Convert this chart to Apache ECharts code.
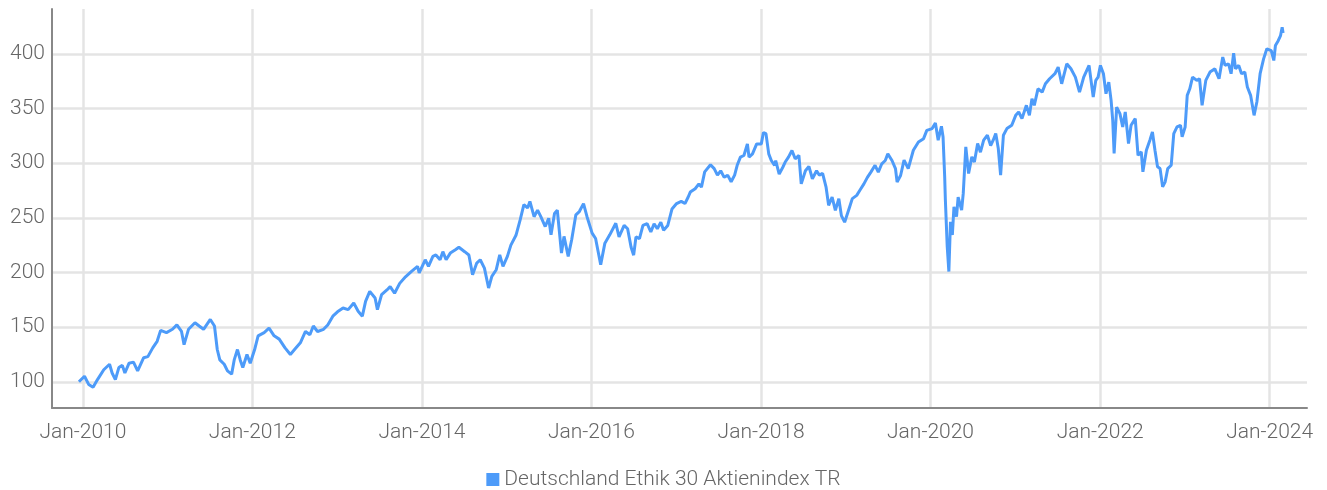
<!DOCTYPE html>
<html>
<head>
<meta charset="utf-8">
<script src="https://cdn.jsdelivr.net/npm/echarts@6/dist/echarts.min.js"></script>
<style>
  html, body { margin: 0; padding: 0; background: #fff; }
  #chart { width: 1327px; height: 490px; }
</style>
</head>
<body>
<div id="chart"></div>
<script>
// index level (start = 100)
var seriesName = 'Deutschland Ethik 30 Aktienindex TR';

var dates = [
  '2009-12-15','2010-01-08','2010-01-26','2010-02-14','2010-03-05','2010-04-01','2010-04-26','2010-05-07','2010-05-21','2010-06-05',
  '2010-06-20','2010-07-01','2010-07-19','2010-08-07','2010-08-25','2010-09-20','2010-10-08','2010-10-29','2010-11-17','2010-12-02',
  '2010-12-27','2011-01-22','2011-02-10','2011-03-02','2011-03-13','2011-04-01','2011-04-29','2011-05-17','2011-06-05','2011-07-04',
  '2011-07-22','2011-08-03','2011-08-14','2011-09-02','2011-09-16','2011-10-04','2011-10-15','2011-10-29','2011-11-10','2011-11-21',
  '2011-12-09','2011-12-23','2012-01-11','2012-01-26','2012-02-21','2012-03-13','2012-04-04','2012-04-26','2012-05-21','2012-06-13',
  '2012-07-01','2012-07-26','2012-08-17','2012-09-05','2012-09-20','2012-10-08','2012-11-03','2012-11-21','2012-12-13','2013-01-02',
  '2013-01-26','2013-02-17','2013-03-13','2013-04-01','2013-04-19','2013-05-03','2013-05-21','2013-06-13','2013-06-23','2013-07-11',
  '2013-08-03','2013-08-17','2013-09-05','2013-09-27','2013-10-22','2013-11-17','2013-12-13','2013-12-20','2014-01-15','2014-01-29',
  '2014-02-17','2014-03-02','2014-03-20','2014-04-01','2014-04-15','2014-05-03','2014-05-25','2014-06-09','2014-07-04','2014-07-22',
  '2014-08-07','2014-08-25','2014-09-09','2014-09-27','2014-10-15','2014-10-29','2014-11-17','2014-12-02','2014-12-16','2015-01-04',
  '2015-01-19','2015-02-10','2015-02-28','2015-03-16','2015-04-01','2015-04-11','2015-04-29','2015-05-14','2015-05-28','2015-06-16',
  '2015-07-01','2015-07-11','2015-07-26','2015-08-07','2015-08-25','2015-09-05','2015-09-23','2015-10-08','2015-10-26','2015-11-10',
  '2015-11-28','2015-12-13','2016-01-04','2016-01-19','2016-02-10','2016-02-28','2016-03-20','2016-04-15','2016-04-29','2016-05-21',
  '2016-06-05','2016-06-20','2016-07-01','2016-07-11','2016-07-26','2016-08-10','2016-08-28','2016-09-13','2016-09-27','2016-10-11',
  '2016-10-26','2016-11-07','2016-11-25','2016-12-02','2016-12-13','2017-01-02','2017-01-22','2017-02-07','2017-02-21','2017-03-02',
  '2017-03-23','2017-04-08','2017-04-19','2017-05-03','2017-05-28','2017-06-13','2017-06-27','2017-07-11','2017-07-26','2017-08-10',
  '2017-08-25','2017-09-09','2017-09-20','2017-10-04','2017-10-19','2017-11-03','2017-11-10','2017-11-25','2017-12-13','2018-01-02',
  '2018-01-11','2018-01-22','2018-02-03','2018-02-14','2018-02-28','2018-03-05','2018-03-20','2018-04-04','2018-04-15','2018-04-29',
  '2018-05-14','2018-05-28','2018-06-13','2018-06-23','2018-07-11','2018-07-26','2018-08-10','2018-08-28','2018-09-09','2018-09-23',
  '2018-10-08','2018-10-19','2018-11-03','2018-11-17','2018-12-02','2018-12-13','2018-12-27','2019-01-15','2019-01-29','2019-02-17',
  '2019-03-02','2019-03-20','2019-04-04','2019-04-19','2019-05-07','2019-05-21','2019-06-05','2019-06-20','2019-07-01','2019-07-19',
  '2019-08-03','2019-08-10','2019-08-25','2019-09-09','2019-09-27','2019-10-19','2019-11-10','2019-12-02','2019-12-16','2020-01-08',
  '2020-01-22','2020-02-03','2020-02-17','2020-02-24','2020-03-02','2020-03-05','2020-03-13','2020-03-20','2020-03-27','2020-04-04',
  '2020-04-11','2020-04-22','2020-04-29','2020-05-14','2020-05-21','2020-06-01','2020-06-13','2020-06-27','2020-07-08','2020-07-22',
  '2020-08-03','2020-08-17','2020-09-02','2020-09-16','2020-09-27','2020-10-08','2020-10-19','2020-10-29','2020-11-10','2020-11-25',
  '2020-12-16','2021-01-02','2021-01-15','2021-01-29','2021-02-17','2021-03-02','2021-03-13','2021-03-23','2021-04-08','2021-04-26',
  '2021-05-10','2021-05-28','2021-06-20','2021-07-04','2021-07-19','2021-08-10','2021-08-28','2021-09-16','2021-10-04','2021-10-22',
  '2021-11-14','2021-12-02','2021-12-13','2021-12-23','2022-01-02','2022-01-15','2022-01-26','2022-02-07','2022-02-17','2022-02-24',
  '2022-03-02','2022-03-13','2022-03-27','2022-04-08','2022-04-19','2022-05-03','2022-05-14','2022-06-01','2022-06-13','2022-06-27',
  '2022-07-04','2022-07-19','2022-08-03','2022-08-14','2022-08-25','2022-09-05','2022-09-16','2022-09-27','2022-10-08','2022-10-19',
  '2022-11-03','2022-11-14','2022-11-28','2022-12-13','2022-12-20','2023-01-02','2023-01-11','2023-01-22','2023-02-03','2023-02-21',
  '2023-03-05','2023-03-16','2023-04-01','2023-04-19','2023-05-10','2023-05-28','2023-06-13','2023-06-23','2023-07-08','2023-07-19',
  '2023-07-30','2023-08-07','2023-08-21','2023-09-02','2023-09-16','2023-09-27','2023-10-11','2023-10-26','2023-11-07','2023-11-21',
  '2023-12-06','2023-12-20','2024-01-08','2024-01-19','2024-01-26','2024-02-07','2024-02-17','2024-02-24','2024-02-28'
];

var values = [
  100, 105, 97.6, 95, 102, 111, 116, 108, 102, 113,
  115, 108, 117, 118, 110, 122, 123, 131, 137, 147,
  145, 148, 152, 146, 134, 148, 154, 151, 148, 157,
  151, 129.5, 120, 116, 110, 107, 120, 129.5, 120, 113,
  125, 117, 129.5, 142, 145, 149, 142, 139, 131, 125,
  129.5, 135.6, 146, 143, 151, 146, 148, 152, 160, 164,
  167.5, 166, 172, 164.5, 160, 173.6, 182.7, 176.6, 166, 179.7,
  184, 187, 181, 190, 196, 201, 205.5, 199.5, 211.6, 205.5,
  214.7, 216, 211.6, 219, 211.6, 217.7, 220.7, 223, 219, 216,
  198, 208.6, 211.6, 204, 185.8, 196.4, 202.5, 216, 205.5, 214.7,
  225, 234, 248, 262, 259, 265, 251, 257, 251, 242,
  249.6, 234.4, 254, 257, 217.7, 233, 214.7, 229.9, 252.7, 255.7,
  263, 251, 236, 231, 207, 226.8, 234.4, 245, 232.5, 243,
  240, 223, 215.8, 232.5, 231, 243, 244.6, 237, 244.6, 240,
  246, 238.6, 243, 243, 258, 263, 265, 263, 269, 273.5,
  276.6, 281, 278, 292, 298.5, 295, 289, 293, 287, 289,
  283, 289, 298, 305.5, 307, 317.6, 305.5, 308.5, 317.6, 317.6,
  328, 327, 308.5, 302.4, 298, 302.4, 290, 296, 301, 305.5,
  311.6, 304, 307, 281, 293, 297, 285.7, 293, 289, 290.6,
  278, 261.4, 269, 256.8, 267.5, 252, 246, 258.3, 267.5, 270.5,
  275, 281, 287, 291.8, 298, 291.8, 299.4, 302.4, 308.5, 302.4,
  295, 282.7, 288.7, 302.7, 295, 311.8, 319.4, 322.4, 330, 331.6,
  336.7, 321, 333.7, 324, 287.5, 266, 223.6, 200.8, 246.4, 234.3,
  260, 251, 269, 257, 272.3, 314.8, 290.5, 305.7, 301, 318,
  310, 321, 325.5, 316, 321, 327, 313.3, 289, 325.5, 331.6,
  334.6, 343.7, 346.8, 340.7, 352.9, 343.7, 359, 352.9, 368, 365,
  372.6, 377.2, 381.8, 387.8, 372.6, 390.9, 386.3, 378.7, 365, 378.7,
  389.4, 360.5, 375.7, 378.7, 389.4, 381.8, 363.5, 374.1, 357.4, 339.2,
  308.8, 351.3, 345.3, 333.1, 346.8, 317.9, 334.6, 340.7, 307.2, 310.3,
  292, 311.8, 320.9, 328.5, 311.8, 296.6, 295, 278.3, 282.9, 295,
  298.1, 327, 333.1, 334.6, 324, 333.1, 362, 368, 378.7, 375.7,
  377.2, 352.9, 375.7, 383.3, 386.3, 377.2, 397, 389.4, 390.9, 381.8,
  400.6, 386.3, 389.4, 381.8, 383.3, 369.6, 362, 343.7, 355.9, 381.8,
  395.4, 404.6, 403, 393.9, 407.6, 412, 416.7, 424.3, 419
];

var labelYears = [2010, 2012, 2014, 2016, 2018, 2020, 2022, 2024];
var yTicks = [100, 150, 200, 250, 300, 350, 400];

function toTime(s) {
  var p = s.split('-');
  return new Date(+p[0], +p[1] - 1, +p[2]).getTime();
}

var xTicks = labelYears.map(function (y) { return new Date(y, 0, 1).getTime(); });
var points = dates.map(function (d, i) { return [toTime(d), values[i]]; });

var chart = echarts.init(document.getElementById('chart'));
var font = 'Roboto';

var option = {
  animation: false,
  backgroundColor: '#fff',
  grid: {
    left: 52,
    right: 20,
    top: 9,
    bottom: 82,
    containLabel: false,
    outerBoundsMode: 'none'
  },
  legend: {
    top: 464,
    left: 'center',
    icon: 'rect',
    itemWidth: 13,
    itemHeight: 13,
    textStyle: { color: '#666', fontFamily: font, fontWeight: 300, fontSize: 21 },
    data: [seriesName]
  },
  xAxis: {
    type: 'value',
    min: toTime('2009-08-21'),
    max: toTime('2024-06-10'),
    axisLine: { show: true, lineStyle: { color: '#888', width: 2 } },
    axisTick: { show: false, customValues: xTicks },
    axisLabel: {
      customValues: xTicks,
      margin: 14,
      color: '#666',
      fontFamily: font,
      fontWeight: 300,
      fontSize: 21,
      formatter: function (v) { return 'Jan-' + new Date(v).getFullYear(); }
    },
    splitLine: { show: true, lineStyle: { color: '#e4e4e4', width: 2.5 } }
  },
  yAxis: {
    type: 'value',
    min: 76,
    max: 441,
    axisLine: { show: true, lineStyle: { color: '#888', width: 2 } },
    axisTick: { show: false, customValues: yTicks },
    axisLabel: {
      customValues: yTicks,
      margin: 7,
      color: '#666',
      fontFamily: font,
      fontWeight: 300,
      fontSize: 21
    },
    splitLine: { show: true, lineStyle: { color: '#e4e4e4', width: 2.5 } }
  },
  series: [{
    name: seriesName,
    type: 'line',
    data: points,
    showSymbol: false,
    color: '#4d9bf9',
    lineStyle: { width: 3, color: '#4d9bf9' }
  }]
};

chart.setOption(option);
</script>
</body>
</html>
